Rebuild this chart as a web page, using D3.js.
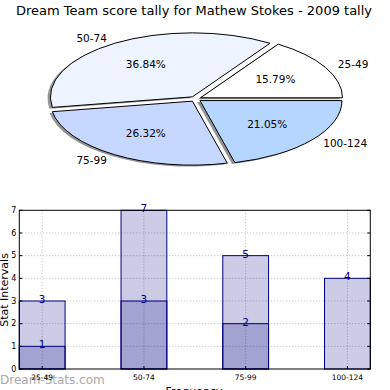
<!DOCTYPE html>
<html><head><meta charset="utf-8">
<script src="https://cdn.jsdelivr.net/npm/d3@7"></script>
<style>body{margin:0;background:#fff}svg{display:block;font-family:"DejaVu Sans",sans-serif}</style>
</head><body><svg id="c" width="390" height="390"></svg>
<script>
const title = "Dream Team score tally for Mathew Stokes - 2009 tally";
const categories = ["25-49", "50-74", "75-99", "100-124"];
const pieValues = [3, 7, 5, 4];
const pieColors = ["#ffffff", "#edf3ff", "#c6d8ff", "#b5d6ff"];
const totalValues = [3, 7, 5, 4];
const lowerValues = [1, 3, 2, 0];
const yTicks = [0, 1, 2, 3, 4, 5, 6, 7];

const svg = d3.select("#c");
svg.append("text").attr("x", 194).attr("y", 14.5).attr("text-anchor", "middle")
  .attr("font-size", 13).text(title);

// ---- Pie (elliptical, exploded, with shadow) ----
const cx = 195.5, cy = 99, rx = 142, ry = 64, explode = 0.04;
const pie = d3.pie().sort(null).startAngle(0).endAngle(2 * Math.PI)(pieValues);
const total = d3.sum(pieValues);
const pt = (ox, oy, a, f) => [ox + f * rx * Math.cos(a), oy - f * ry * Math.sin(a)];
function wedgePath(ox, oy, a0, a1) {
  const p0 = pt(ox, oy, a0, 1), p1 = pt(ox, oy, a1, 1);
  const large = (a1 - a0) > Math.PI ? 1 : 0;
  return `M${ox},${oy}L${p0[0]},${p0[1]}A${rx},${ry} 0 ${large} 0 ${p1[0]},${p1[1]}Z`;
}
const gp = svg.append("g");
pie.forEach((d, i) => {
  const mid = (d.startAngle + d.endAngle) / 2;
  const ox = cx + explode * rx * Math.cos(mid), oy = cy - explode * ry * Math.sin(mid);
  gp.append("path").attr("d", wedgePath(ox - 2.8, oy + 1.4, d.startAngle, d.endAngle))
    .attr("fill", "#3d3d3d").attr("opacity", 0.55);
  gp.append("path").attr("d", wedgePath(ox, oy, d.startAngle, d.endAngle))
    .attr("fill", pieColors[i]).attr("stroke", "#000").attr("stroke-width", 1)
    .attr("stroke-linejoin", "round");
  const lp = pt(ox, oy, mid, 1.1);
  gp.append("text").attr("x", lp[0]).attr("y", lp[1]).attr("dy", "0.35em")
    .attr("text-anchor", Math.cos(mid) > 0 ? "start" : "end")
    .attr("font-size", 10.5).text(categories[i]);
  const pp = pt(ox, oy, mid, 0.6);
  gp.append("text").attr("x", pp[0]).attr("y", pp[1]).attr("dy", "0.35em")
    .attr("text-anchor", "middle").attr("font-size", 10.5)
    .text((d.value / total * 100).toFixed(2) + "%");
});

// ---- Bars ----
const L = 19.3, R = 370.3, T = 210.3, B = 369;
const barW = 0.45;
const x = d3.scaleLinear().domain([0, categories.length - 1 + barW]).range([L, R]);
const y = d3.scaleLinear().domain([0, 7]).range([B, T]);
const gb = svg.append("g");
// grid
yTicks.slice(1, -1).forEach(t => {
  gb.append("line").attr("x1", L).attr("x2", R).attr("y1", y(t)).attr("y2", y(t))
    .attr("stroke", "#b8b8b8").attr("stroke-dasharray", "1,2");
});
categories.forEach((c, i) => {
  gb.append("line").attr("x1", x(i + barW / 2)).attr("x2", x(i + barW / 2)).attr("y1", T).attr("y2", B)
    .attr("stroke", "#b8b8b8").attr("stroke-dasharray", "1,2");
});
function drawSeries(vals) {
  vals.forEach((v, i) => {
    if (v <= 0) return;
    gb.append("rect").attr("x", x(i)).attr("y", y(v)).attr("width", x(i + barW) - x(i))
      .attr("height", y(0) - y(v)).attr("fill", "navy").attr("fill-opacity", 0.2)
      .attr("stroke", "navy").attr("stroke-width", 1);
  });
}
drawSeries(totalValues);
drawSeries(lowerValues);
function labelSeries(vals) {
  vals.forEach((v, i) => {
    if (v <= 0) return;
    gb.append("text").attr("x", x(i + barW / 2)).attr("y", y(v) + 2).attr("text-anchor", "middle")
      .attr("font-size", 10.5).attr("fill", "navy").text(v);
  });
}
labelSeries(totalValues);
labelSeries(lowerValues);
// frame
gb.append("rect").attr("x", L).attr("y", T).attr("width", R - L).attr("height", B - T)
  .attr("fill", "none").attr("stroke", "#000").attr("stroke-width", 1);
// y ticks
yTicks.forEach(t => {
  gb.append("line").attr("x1", L).attr("x2", L + 3).attr("y1", y(t)).attr("y2", y(t)).attr("stroke", "#000");
  gb.append("line").attr("x1", R).attr("x2", R - 3).attr("y1", y(t)).attr("y2", y(t)).attr("stroke", "#000");
  gb.append("text").attr("x", L - 3).attr("y", y(t)).attr("dy", "0.35em").attr("text-anchor", "end")
    .attr("font-size", 8).text(t);
});
// watermark
svg.append("text").attr("x", 0).attr("y", 384).attr("font-size", 12)
  .attr("fill", "#9a9a9a").attr("opacity", 0.85).text("Dream-Stats.com");
categories.forEach((c, i) => {
  gb.append("line").attr("x1", x(i + barW / 2)).attr("x2", x(i + barW / 2)).attr("y1", B).attr("y2", B - 3).attr("stroke", "#000");
  svg.append("text").attr("x", x(i + barW / 2)).attr("y", 380).attr("text-anchor", "middle")
    .attr("font-size", 7.5).text(c);
});
svg.append("text").attr("transform", "translate(8,290) rotate(-90)").attr("text-anchor", "middle")
  .attr("font-size", 11).text("Stat Intervals");
svg.append("text").attr("x", 194).attr("y", 395).attr("text-anchor", "middle")
  .attr("font-size", 11).text("Frequency");
</script></body></html>
